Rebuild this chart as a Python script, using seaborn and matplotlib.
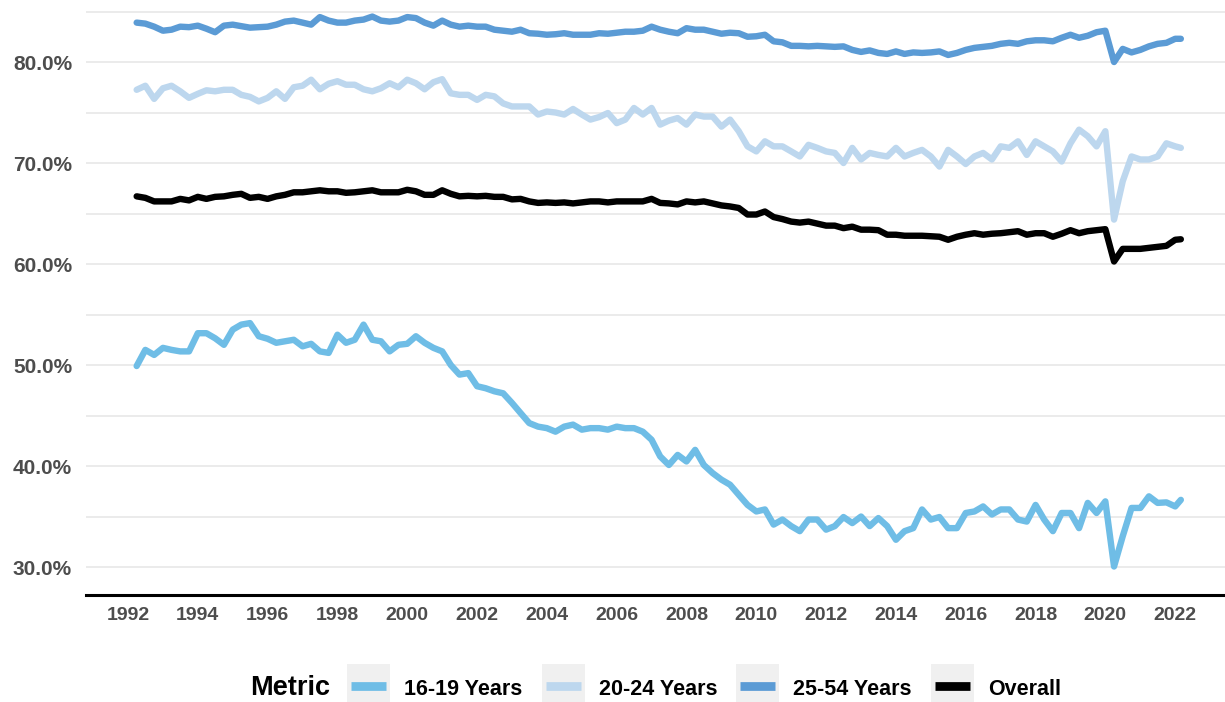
import matplotlib
matplotlib.use('Agg')
import matplotlib.pyplot as plt
import matplotlib.dates as mdates
from matplotlib.lines import Line2D
from matplotlib.patches import Rectangle
from matplotlib.legend_handler import HandlerLine2D
from matplotlib.ticker import FixedLocator, FuncFormatter
import pandas as pd
import seaborn as sns

# quarterly readings, Apr 1992 .. Jan 2022, plus the last month (Mar 2022)
dates = list(pd.date_range('1992-04-01', '2022-01-01', freq='QS')) + [pd.Timestamp('2022-03-01')]

p1619 = [49.9, 51.5, 51.0,
         51.7, 51.5, 51.35, 51.35,
         53.15, 53.15, 52.65, 52.0,
         53.5, 54.0, 54.15, 52.85,
         52.6, 52.2, 52.35, 52.5,
         51.85, 52.1, 51.35, 51.2,
         53.0, 52.2, 52.5, 54.0,
         52.5, 52.35, 51.35, 52.0,
         52.1, 52.85, 52.2, 51.7,
         51.35, 50.0, 49.05, 49.2,
         47.9, 47.7, 47.4, 47.2,
         46.25, 45.25, 44.25, 43.9,
         43.75, 43.4, 43.9, 44.1,
         43.6, 43.75, 43.75, 43.6,
         43.9, 43.75, 43.75, 43.4,
         42.6, 40.95, 40.1, 41.1,
         40.45, 41.6, 40.1, 39.3,
         38.65, 38.15, 37.15, 36.15,
         35.5, 35.7, 34.2, 34.7,
         34.05, 33.55, 34.7, 34.7,
         33.7, 34.05, 34.95, 34.35,
         35.0, 34.05, 34.85, 34.05,
         32.7, 33.55, 33.85, 35.7,
         34.7, 34.95, 33.85, 33.85,
         35.35, 35.5, 36.0, 35.2,
         35.7, 35.7, 34.7, 34.5,
         36.15, 34.7, 33.55, 35.35,
         35.35, 33.85, 36.35, 35.35,
         36.5, 30.05, 33.05, 35.85,
         35.85, 37.0, 36.35, 36.4,
         36.0, 36.65]

p2024 = [77.25, 77.65, 76.35,
         77.4, 77.65, 77.1, 76.45,
         76.85, 77.2, 77.1, 77.25,
         77.25, 76.75, 76.55, 76.1,
         76.45, 77.1, 76.35, 77.5,
         77.65, 78.25, 77.3, 77.85,
         78.1, 77.75, 77.75, 77.3,
         77.1, 77.4, 77.9, 77.5,
         78.25, 77.9, 77.3, 78.0,
         78.3, 76.9, 76.75, 76.75,
         76.25, 76.75, 76.6, 75.9,
         75.6, 75.6, 75.6, 74.8,
         75.1, 75.0, 74.8, 75.35,
         74.8, 74.3, 74.55, 74.95,
         73.95, 74.3, 75.45, 74.8,
         75.45, 73.8, 74.2, 74.45,
         73.8, 74.8, 74.6, 74.6,
         73.6, 74.3, 73.15, 71.65,
         71.15, 72.15, 71.65, 71.65,
         71.15, 70.65, 71.8, 71.5,
         71.15, 71.0, 70.0, 71.5,
         70.35, 71.0, 70.8, 70.65,
         71.5, 70.65, 71.0, 71.3,
         70.65, 69.65, 71.3, 70.65,
         69.9, 70.65, 71.0, 70.35,
         71.65, 71.5, 72.15, 70.8,
         72.15, 71.65, 71.15, 70.15,
         71.95, 73.3, 72.65, 71.65,
         73.15, 64.4, 68.2, 70.65,
         70.35, 70.35, 70.65, 71.95,
         71.65, 71.5]

p2554 = [83.9, 83.8, 83.5,
         83.1, 83.2, 83.5, 83.45,
         83.6, 83.3, 82.95, 83.6,
         83.7, 83.55, 83.4, 83.45,
         83.5, 83.7, 84.0, 84.1,
         83.9, 83.7, 84.45, 84.1,
         83.9, 83.9, 84.1, 84.2,
         84.5, 84.1, 84.0, 84.1,
         84.45, 84.35, 83.9, 83.6,
         84.1, 83.7, 83.5, 83.6,
         83.5, 83.5, 83.2, 83.1,
         83.0, 83.2, 82.85, 82.8,
         82.7, 82.75, 82.85, 82.7,
         82.7, 82.7, 82.85, 82.8,
         82.9, 83.0, 83.0, 83.1,
         83.5, 83.2, 83.0, 82.85,
         83.35, 83.2, 83.2, 83.0,
         82.8, 82.9, 82.85, 82.5,
         82.55, 82.7, 82.05, 81.95,
         81.6, 81.6, 81.55, 81.6,
         81.55, 81.5, 81.55, 81.2,
         81.0, 81.15, 80.9, 80.8,
         81.05, 80.8, 80.95, 80.9,
         80.95, 81.05, 80.7, 80.9,
         81.2, 81.4, 81.5, 81.6,
         81.8, 81.9, 81.8, 82.05,
         82.15, 82.15, 82.05, 82.4,
         82.7, 82.4, 82.6, 82.95,
         83.1, 80.0, 81.3, 80.95,
         81.2, 81.55, 81.8, 81.9,
         82.3, 82.3]

overall = [66.7, 66.55, 66.2,
           66.2, 66.2, 66.45, 66.3,
           66.65, 66.45, 66.65, 66.7,
           66.85, 66.95, 66.55, 66.65,
           66.45, 66.7, 66.85, 67.1,
           67.1, 67.2, 67.3, 67.2,
           67.2, 67.05, 67.1, 67.2,
           67.3, 67.1, 67.1, 67.1,
           67.35, 67.2, 66.85, 66.85,
           67.3, 66.95, 66.7, 66.75,
           66.7, 66.75, 66.65, 66.65,
           66.4, 66.45, 66.2, 66.05,
           66.1, 66.05, 66.1, 66.0,
           66.1, 66.2, 66.2, 66.1,
           66.2, 66.2, 66.2, 66.2,
           66.45, 66.05, 66.0, 65.9,
           66.2, 66.1, 66.2, 66.0,
           65.8, 65.7, 65.55, 64.9,
           64.9, 65.2, 64.65, 64.45,
           64.2, 64.1, 64.2, 64.0,
           63.8, 63.8, 63.55, 63.7,
           63.4, 63.4, 63.35, 62.9,
           62.9, 62.8, 62.8, 62.8,
           62.75, 62.7, 62.4, 62.7,
           62.9, 63.05, 62.9, 63.0,
           63.05, 63.15, 63.25, 62.9,
           63.05, 63.05, 62.7, 63.0,
           63.35, 63.05, 63.25, 63.35,
           63.45, 60.25, 61.5, 61.5,
           61.5, 61.6, 61.7, 61.8,
           62.4, 62.45]

metrics = ['16-19 Years', '20-24 Years', '25-54 Years', 'Overall']
colors = ['#6fbde6', '#bdd7ee', '#5b9bd5', '#000000']
palette = dict(zip(metrics, colors))

df = pd.DataFrame({'date': dates, '16-19 Years': p1619, '20-24 Years': p2024,
                   '25-54 Years': p2554, 'Overall': overall})
long = df.melt(id_vars='date', var_name='Metric', value_name='rate')

sns.set_theme(style='white')
plt.rcParams['font.family'] = ['Liberation Sans', 'DejaVu Sans']

W, H = 1225, 702
fig = plt.figure(figsize=(W / 100, H / 100), dpi=100)
ax = fig.add_axes([86 / W, 107 / H, 1139 / W, 595 / H])

sns.lineplot(data=long, x='date', y='rate', hue='Metric', hue_order=metrics,
             palette=palette, linewidth=4.6, legend=False, ax=ax)

ax.set_xlim(pd.Timestamp('1990-10-19'), pd.Timestamp('2023-06-06'))
ax.set_ylim(27.23, 86.14)

ax.yaxis.set_major_locator(FixedLocator([30, 40, 50, 60, 70, 80]))
ax.yaxis.set_minor_locator(FixedLocator([35, 45, 55, 65, 75, 85]))
ax.yaxis.set_major_formatter(FuncFormatter(lambda v, p: f'{v:.1f}%'))
ax.xaxis.set_major_locator(mdates.YearLocator(2))
ax.xaxis.set_major_formatter(mdates.DateFormatter('%Y'))

ax.grid(axis='y', which='both', color='#e8e8e8', linewidth=1.2)
ax.grid(axis='x', visible=False)
ax.set_axisbelow(True)
for s in ['top', 'right', 'left']:
    ax.spines[s].set_visible(False)
ax.spines['bottom'].set_color('black')
ax.spines['bottom'].set_linewidth(2.2)

ax.tick_params(axis='both', which='both', length=0)
ax.tick_params(axis='x', pad=9, labelsize=14, labelcolor='#4d4d4d')
ax.tick_params(axis='y', pad=10, labelsize=15, labelcolor='#4d4d4d')
for lab in ax.get_xticklabels() + ax.get_yticklabels():
    lab.set_fontweight('bold')
ax.set_xlabel('')
ax.set_ylabel('')


class KeyBoxHandler(HandlerLine2D):
    # grey square behind each legend line, like a ggplot key
    def create_artists(self, legend, orig_handle, xdescent, ydescent, width, height, fontsize, trans):
        arts = super().create_artists(legend, orig_handle, xdescent, ydescent, width, height, fontsize, trans)
        cy = (height - ydescent) / 2
        box = Rectangle((-xdescent, cy - width / 2), width, width, facecolor='#f0f0f0',
                        edgecolor='none', transform=trans)
        return [box] + arts


handles = [Line2D([], [], color=palette[m], linewidth=6.3, solid_capstyle='butt') for m in metrics]
leg_y = 14 / H
leg = fig.legend(handles, metrics, loc='center left', bbox_to_anchor=(0.3, leg_y), ncol=4,
                 frameon=False, borderpad=0, borderaxespad=0, handlelength=2.0, handleheight=1.2,
                 handletextpad=0.65, columnspacing=0.88,
                 handler_map={Line2D: KeyBoxHandler(numpoints=2, marker_pad=0.19)},
                 prop={'weight': 'bold', 'size': 15.5}, labelcolor='black')
title = fig.text(0.2, leg_y, 'Metric', fontsize=19.5, fontweight='bold', color='black',
                 va='center', ha='left')

# center title + legend under the panel
fig.canvas.draw()
r = fig.canvas.get_renderer()
lw = leg.get_window_extent(r).width
tw = title.get_window_extent(r).width
gap = 17
center = (86 + 1225) / 2
start = center - (tw + gap + lw) / 2
title.set_x(start / W)
leg.set_bbox_to_anchor(((start + tw + gap) / W, leg_y), transform=fig.transFigure)

fig.savefig('out.png', dpi=100)
